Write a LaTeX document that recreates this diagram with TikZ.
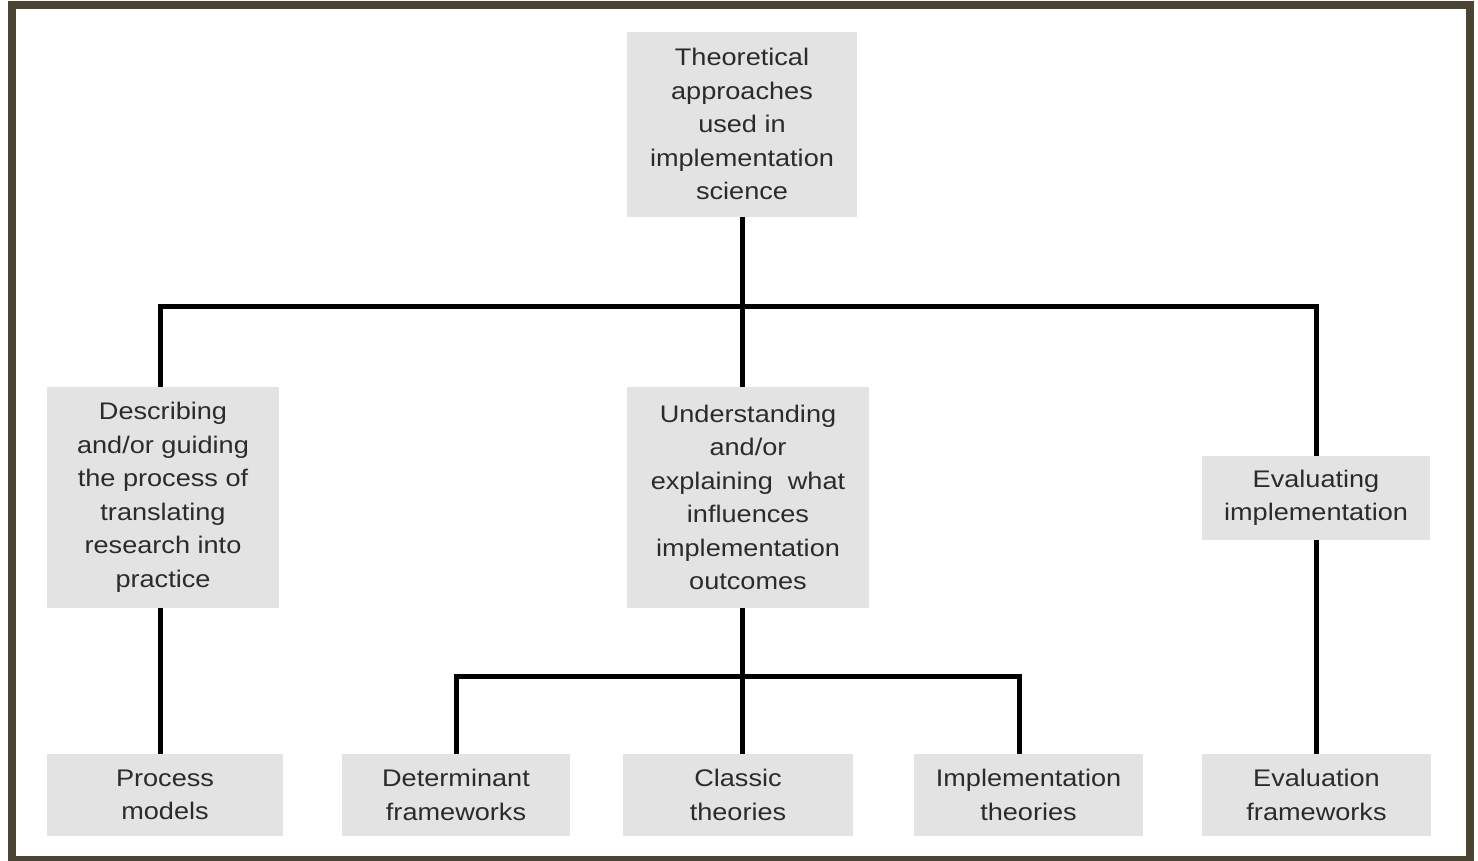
\documentclass[tikz,border=0pt]{standalone}
\usepackage{fontspec}
\setmainfont{Liberation Sans}[FakeStretch=1.13]
\usepackage{xcolor}
\usepackage{tikz}
\usetikzlibrary{positioning}

\definecolor{boxgray}{HTML}{E3E3E3}
\definecolor{textgray}{HTML}{2B2B2B}
\definecolor{framebrown}{HTML}{4B4433}

\begin{document}
\begin{tikzpicture}[
	x=1pt, y=-1pt,
	box/.style={
		rectangle,
		fill=boxgray,
		inner sep=0pt,
		text centered,
		align=center,
		text=textgray
		},
	big/.style={
		minimum height=221pt
	},
	low/.style={
		minimum height=82pt
	},
	link/.style={
		line width=5pt,
		draw=black
	},
	every node/.style={font=\fontsize{24}{33.5}\selectfont}
]
\useasboundingbox (0,0) rectangle (1478,860);
\fill[white] (0,0) rectangle (1478,860);
\draw[line width=8pt, draw=framebrown] (12,5) rectangle (1470,860);

% Root
\node [box, minimum width=230pt, minimum height=185pt] (Theoretical) at (742,124)
	{Theoretical\\approaches\\used in\\implementation\\science};

% Aims
\node [box, big, minimum width=232pt] (Describing) at (163,497.5)
	{Describing\\and/or guiding\\the process of\\translating\\research into\\practice};
\node [box, big, minimum width=242pt] (Understanding) at (748,497.5)
	{Understanding\\and/or\\explaining~ what\\influences\\implementation\\outcomes};
\node [box, minimum width=228pt, minimum height=84pt] (Evaluating) at (1316,498)
	{Evaluating\\implementation};

% Categories
\node [box, low, minimum width=236pt] (Process) at (165,795) {Process\\models};
\node [box, low, minimum width=228pt] (Determinant) at (456,795) {Determinant\\frameworks};
\node [box, low, minimum width=230pt] (Classic) at (738,795) {Classic\\theories};
\node [box, low, minimum width=229pt] (Implementation) at (1028.5,795) {Implementation\\theories};
\node [box, low, minimum width=229pt] (Evaluation) at (1316.5,795) {Evaluation\\frameworks};

% Connectors
\coordinate (top bus) at (742,306);
\coordinate (low bus) at (742,676);
\draw [link] (Theoretical.south) -- (Theoretical.south |- Understanding.north);
\draw [link] ([xshift=-3pt]Describing.north) |- (top bus) -| (Evaluating.north);
\draw [link] ([xshift=-3pt]Describing.south) -- ([xshift=-3pt]Describing.south |- Process.north);
\draw [link] (Understanding.south -| low bus) -- (Classic.north -| low bus);
\draw [link] (Determinant.north) |- (low bus) -| ([xshift=-9pt]Implementation.north);
\draw [link] (Evaluating.south) -- (Evaluating.south |- Evaluation.north);
\end{tikzpicture}
\end{document}
